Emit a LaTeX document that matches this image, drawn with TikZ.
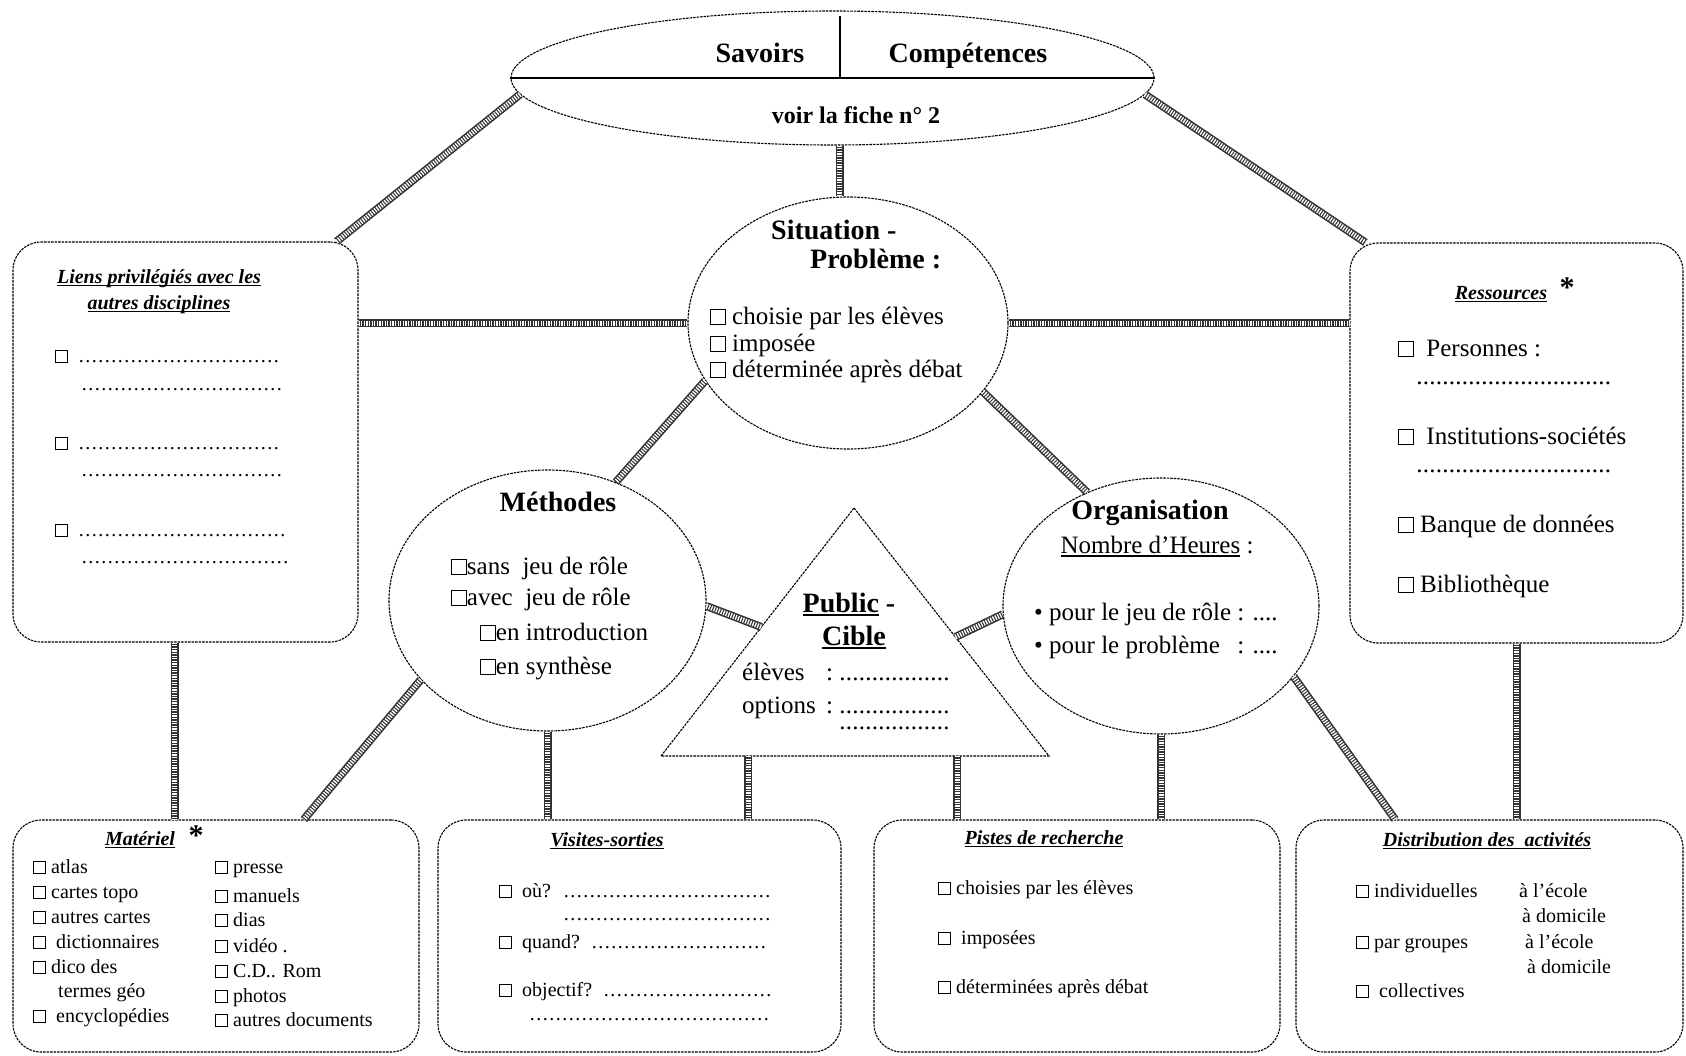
\documentclass[tikz,border=0pt]{standalone}
\usepackage{fontspec}
\setmainfont{Liberation Serif}
\usetikzlibrary{shapes.geometric,calc}
\newcommand\cbx{\raisebox{0.02em}{\fboxsep=0pt\fboxrule=1pt\fbox{\rule{0pt}{0.55em}\rule{0.55em}{0pt}}}}
\newcommand\dotsto[1]{\hbox to #1{\leaders\hbox to 6.5pt{\hss.\hss}\hfill}}
\newcommand\fs[2]{\fontsize{#1}{#2}\selectfont}
\newcommand\ulx[1]{\setbox0\hbox{#1}\rlap{\smash{\rule[-0.14em]{\wd0}{0.06em}}}\box0\relax}
\tikzset{
 frame/.style={draw, line width=1.1pt, dash pattern=on 2.5pt off 1pt},
 rbox/.style={frame, rectangle, rounded corners=28pt, inner sep=0pt},
 oval/.style={frame, ellipse, inner sep=0pt},
 link/.style={line width=8pt, draw=black!80, postaction={draw=white, line width=5pt, dash pattern=on 1.3pt off 1.3pt}},
 big/.style={font=\fs{28}{30}\bfseries},
 body/.style={font=\fs{25}{27}},
 small/.style={font=\fs{20}{24}},
 ttl/.style={font=\fs{20}{26}\bfseries\itshape},
 txt/.style={inner sep=0pt, anchor=base west},
 ctr/.style={inner sep=0pt, anchor=base},
 star/.style={inner sep=0pt, font=\fs{30}{30}\bfseries},
}
\begin{document}
\begin{tikzpicture}[x=1pt,y=-1pt]
\useasboundingbox[fill=white] (0,0) rectangle (1686,1055);

% ---- shapes
\node[oval, minimum width=643pt, minimum height=134pt] (top) at (832.5,78) {};
\node[oval, minimum width=320pt, minimum height=252pt] (sit) at (848,323) {};
\node[oval, minimum width=317pt, minimum height=261pt] (meth) at (547.5,600.5) {};
\node[oval, minimum width=316pt, minimum height=256pt] (org) at (1161,606) {};
\node[rbox, minimum width=345pt, minimum height=400pt] (liens) at (185.5,442) {};
\node[rbox, minimum width=333pt, minimum height=400pt] (res) at (1516.5,443) {};
\node[rbox, minimum width=406pt, minimum height=232pt] (mat) at (216,936) {};
\node[rbox, minimum width=403pt, minimum height=232pt] (vis) at (639.5,936) {};
\node[rbox, minimum width=406pt, minimum height=232pt] (pis) at (1077,936) {};
\node[rbox, minimum width=387pt, minimum height=232pt] (dist) at (1489.5,936) {};
\draw[frame] (854,508) coordinate (apex) -- (1049,756) coordinate (triBR) -- (661,756) coordinate (triBL) -- cycle;
\coordinate (triL) at ($(apex)!0.48!(triBL)$);
\coordinate (triR) at ($(apex)!0.52!(triBR)$);
\coordinate (triB1) at (748,756);
\coordinate (triB2) at (957,756);
\draw[line width=2pt] (top.west) -- (top.east);
\draw[line width=1.5pt] (840,16) -- (840,78);

% ---- connectors
\path (top.south) ++(7,0) coordinate (topS);
\draw[link] (topS) -- (topS |- sit.north);
\draw[link] (top.183) -- (liens.53);
\draw[link] (top.357) -- (res.127);
\draw[link] (sit.west -| liens.east) -- (sit.west);
\draw[link] (sit.east) -- (sit.east -| res.west);
\draw[link] (sit.202) -- (meth.60);
\draw[link] (sit.333) -- (org.123);
\draw[link] (meth.358) -- (triL);
\draw[link] (triR) -- (org.183);
\draw[link] (liens.267) -- (liens.267 |- mat.north);
\draw[link] (meth.212) -- (mat.53);
\draw[link] (meth.south) -- (meth.south |- vis.north);
\draw[link] (triB1) -- (triB1 |- vis.north);
\draw[link] (triB2) -- (triB2 |- pis.north);
\draw[link] (org.south) -- (org.south |- pis.north);
\draw[link] (org.332) -- (dist.129);
\draw[link] (res.south) -- (res.south |- dist.north);

% ---- top ellipse
\node[big, ctr] (sav) at (760,62) {Savoirs};
\node[big, ctr] (comp) at (968,62) {Compétences};
\node[font=\fs{24}{26}\bfseries, ctr] (fiche) at (856,123) {voir la fiche n° 2};

% ---- situation
\node[big, txt] (sit1) at (771,239) {Situation -};
\node[big, txt] (sit2) at (810,268) {Problème :};
\node[body, txt] (sit3) at (710,324) {\cbx\ choisie par les élèves};
\node[body, txt] (sit4) at (710,351) {\cbx\ imposée};
\node[body, txt] (sit5) at (710,377) {\cbx\ déterminée après débat};

% ---- methodes
\node[big, ctr] (methT) at (558,511) {Méthodes};
\node[body, txt] (m1) at (451,574) {\cbx sans\ \ jeu de rôle};
\node[body, txt] (m2) at (451,605) {\cbx avec\ \ jeu de rôle};
\node[body, txt] (m3) at (480,640) {\cbx en introduction};
\node[body, txt] (m4) at (480,674) {\cbx en synthèse};

% ---- public cible
\node[big, ctr] (pubT) at (849,612) {\ulx{Public}\ -};
\node[big, ctr] (pubC) at (854,645) {\ulx{Cible}};
\node[body, txt] (pubE) at (742,680) {\makebox[84pt][l]{élèves}:\hspace{6pt}\dotsto{116pt}};
\node[body, txt] (pubO) at (742,713) {\makebox[84pt][l]{options}:\hspace{6pt}\dotsto{116pt}};
\node[body, txt] (pubD) at (839,729) {\dotsto{116pt}};

% ---- organisation
\node[big, ctr] (orgT) at (1150,519) {Organisation};
\node[body, ctr] (orgN) at (1157,553) {\ulx{Nombre d'Heures}\ :};
\node[font=\fs{25}{33}, txt] (orgL) at (1034,620) {\begin{tabular}[t]{@{}l@{ : }l@{}}• pour le jeu de rôle & ....\\ • pour le problème & ....\end{tabular}};

% ---- liens
\node[ttl, ctr] (lT1) at (159,283) {\ulx{Liens privilégiés avec les}};
\node[ttl, ctr] (lT2) at (159,309) {\ulx{autres disciplines}};
\node[small, txt] (l1) at (55,362) {\cbx\ \ \dotsto{202pt}};
\node[small, txt] (l1b) at (81,390) {\dotsto{202pt}};
\node[small, txt] (l2) at (55,449) {\cbx\ \ \dotsto{202pt}};
\node[small, txt] (l2b) at (81,476) {\dotsto{202pt}};
\node[small, txt] (l3) at (55,536) {\cbx\ \ \dotsto{208pt}};
\node[small, txt] (l3b) at (81,563) {\dotsto{208pt}};

% ---- ressources
\node[ttl, ctr] (rT) at (1501,299) {\ulx{Ressources}};
\node[star] (rS) at (1567,288) {*};
\node[body, txt] (r1) at (1398,356) {\cbx\ \ Personnes :};
\node[body, txt] (r1b) at (1416,384) {\dotsto{195pt}};
\node[body, txt] (r2) at (1398,444) {\cbx\ \ Institutions-sociétés};
\node[body, txt] (r2b) at (1416,472) {\dotsto{200pt}};
\node[body, txt] (r3) at (1398,532) {\cbx\ Banque de données};
\node[body, txt] (r4) at (1398,592) {\cbx\ Bibliothèque};

% ---- materiel
\node[ttl, ctr] (matT) at (140,845) {\ulx{Matériel}};
\node[star] (matS) at (196,836) {*};
\node[small, txt] (a1) at (33,873) {\cbx\ atlas};
\node[small, txt] (a2) at (33,898) {\cbx\ cartes topo};
\node[small, txt] (a3) at (33,923) {\cbx\ autres cartes};
\node[small, txt] (a4) at (33,948) {\cbx\ \ dictionnaires};
\node[small, txt] (a5) at (33,973) {\cbx\ dico des};
\node[small, txt] (a6) at (58,997) {termes géo};
\node[small, txt] (a7) at (33,1022) {\cbx\ \ encyclopédies};
\node[small, txt] (b1) at (215,873) {\cbx\ presse};
\node[small, txt] (b2) at (215,902) {\cbx\ manuels};
\node[small, txt] (b3) at (215,926) {\cbx\ dias};
\node[small, txt] (b4) at (215,952) {\cbx\ vidéo .};
\node[small, txt] (b5) at (215,977) {\cbx\ C.D.. Rom};
\node[small, txt] (b6) at (215,1002) {\cbx\ photos};
\node[small, txt] (b7) at (215,1026) {\cbx\ autres documents};

% ---- visites
\node[ttl, ctr] (visT) at (607,846) {\ulx{Visites-sorties}};
\node[small, txt] (v1) at (499,897) {\cbx\ \ où?};
\node[small, txt] (v1d) at (563,897) {\dotsto{211pt}};
\node[small, txt] (v1b) at (563,920) {\dotsto{211pt}};
\node[small, txt] (v2) at (499,948) {\cbx\ \ quand?};
\node[small, txt] (v2d) at (591,948) {\dotsto{181pt}};
\node[small, txt] (v3) at (499,996) {\cbx\ \ objectif?};
\node[small, txt] (v3d) at (603,996) {\dotsto{171pt}};
\node[small, txt] (v3b) at (529,1020) {\dotsto{245pt}};

% ---- pistes
\node[ttl, ctr] (pisT) at (1044,844) {\ulx{Pistes de recherche}};
\node[small, txt] (p1) at (938,894) {\cbx\ choisies par les élèves};
\node[small, txt] (p2) at (938,944) {\cbx\ \ imposées};
\node[small, txt] (p3) at (938,993) {\cbx\ déterminées après débat};

% ---- distribution
\node[ttl, ctr] (distT) at (1487,846) {\ulx{Distribution des\ \ activités}};
\node[small, txt] (d1) at (1356,897) {\cbx\ individuelles};
\node[small, txt] (d1a) at (1519,897) {à l'école};
\node[small, txt] (d1b) at (1522,922) {à domicile};
\node[small, txt] (d2) at (1356,948) {\cbx\ par groupes};
\node[small, txt] (d2a) at (1525,948) {à l'école};
\node[small, txt] (d2b) at (1527,973) {à domicile};
\node[small, txt] (d3) at (1356,997) {\cbx\ \ collectives};
\end{tikzpicture}
\end{document}
